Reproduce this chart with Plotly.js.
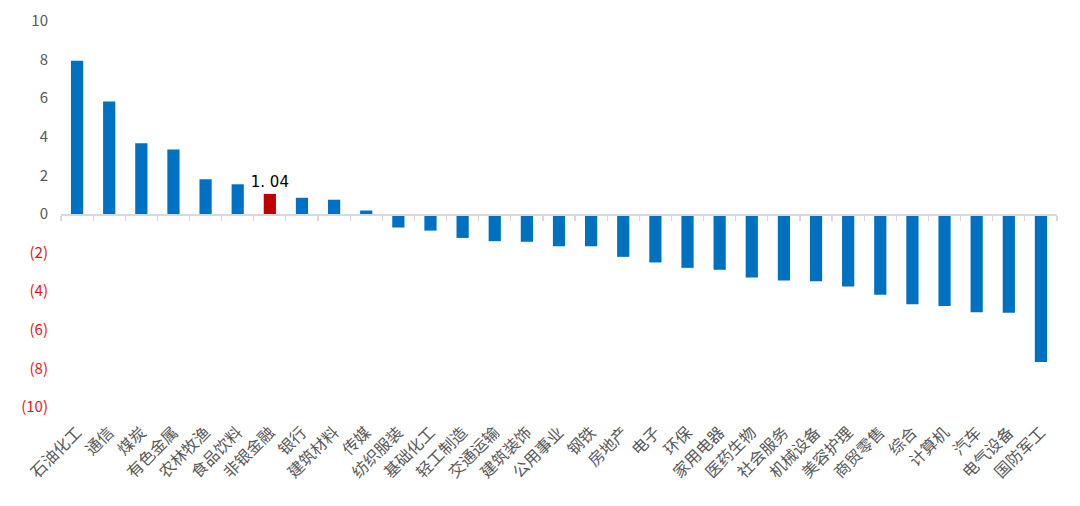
<!DOCTYPE html>
<html>
<head>
<meta charset="utf-8">
<script src="https://cdn.plot.ly/plotly-3.0.1.min.js"></script>
<style>html,body{margin:0;padding:0;background:#fff;}#chart{width:1080px;height:506px;}</style>
</head>
<body>
<div id="chart"></div>
<script>
const categories = ['石油化工','通信','煤炭','有色金属','农林牧渔','食品饮料','非银金融','银行','建筑材料','传媒','纺织服装','基础化工','轻工制造','交通运输','建筑装饰','公用事业','钢铁','房地产','电子','环保','家用电器','医药生物','社会服务','机械设备','美容护理','商贸零售','综合','计算机','汽车','电气设备','国防军工'];
const values = [7.94,5.83,3.67,3.34,1.80,1.54,1.04,0.84,0.74,0.18,-0.70,-0.86,-1.24,-1.41,-1.44,-1.67,-1.67,-2.22,-2.51,-2.79,-2.89,-3.29,-3.45,-3.48,-3.76,-4.19,-4.68,-4.77,-5.09,-5.12,-7.67];
const highlight = '非银金融';
const yTickVals = [10,8,6,4,2,0,-2,-4,-6,-8,-10];
const yTickText = ['10','8','6','4','2','0','(2)','(4)','(6)','(8)','(10)'];

const colors = categories.map(c => c === highlight ? '#c00000' : '#0070c0');
const labels = categories.map((c,i) => c === highlight ? values[i].toFixed(2).replace('.', '. ') : '');
const ticktext = yTickVals.map((v,i) => v < 0 ? '<span style="color:#e8141b">' + yTickText[i] + '</span>' : yTickText[i]);

const data = [
  {type:'bar', x:categories, y:values, xaxis:'x', yaxis:'y',
   marker:{color:colors, line:{width:0}}, text:labels, textposition:'outside', constraintext:'none',
   textfont:{family:'DejaVu Sans, sans-serif', size:15, color:'#000'},
   cliponaxis:false, hoverinfo:'skip'},
  {type:'scatter', mode:'markers', x:categories, y:categories.map(()=>null), xaxis:'x2', yaxis:'y',
   showlegend:false, hoverinfo:'skip'}
];

const layout = {
  width:1080, height:506,
  margin:{l:61, r:23, t:21, b:99},
  paper_bgcolor:'#fff', plot_bgcolor:'#fff',
  showlegend:false,
  bargap:0.62,
  font:{family:'Noto Sans CJK SC, sans-serif', color:'#595959'},
  xaxis:{type:'category', categoryorder:'array', categoryarray:categories, range:[-0.5,30.5],
    showline:false, showgrid:false, zeroline:false, ticks:'', tickangle:-45,
    tickfont:{size:16, color:'#595959'}, ticklabelstandoff:12},
  xaxis2:{type:'category', categoryorder:'array', categoryarray:categories, range:[-0.5,30.5],
    overlaying:'x', anchor:'free', position:0.5, side:'bottom',
    showline:true, linecolor:'#d9d9d9', linewidth:1.5, ticks:'outside', tickson:'boundaries',
    ticklen:5, tickcolor:'#d9d9d9', tickwidth:1.2, showticklabels:false, showgrid:false, zeroline:false},
  yaxis:{range:[-10,10], tickvals:yTickVals, ticktext:ticktext, showgrid:false, zeroline:false,
    showline:false, ticks:'', tickfont:{size:15, color:'#595959'}, ticklabelstandoff:12}
};

Plotly.newPlot('chart', data, layout, {staticPlot:true});
</script>
</body>
</html>
